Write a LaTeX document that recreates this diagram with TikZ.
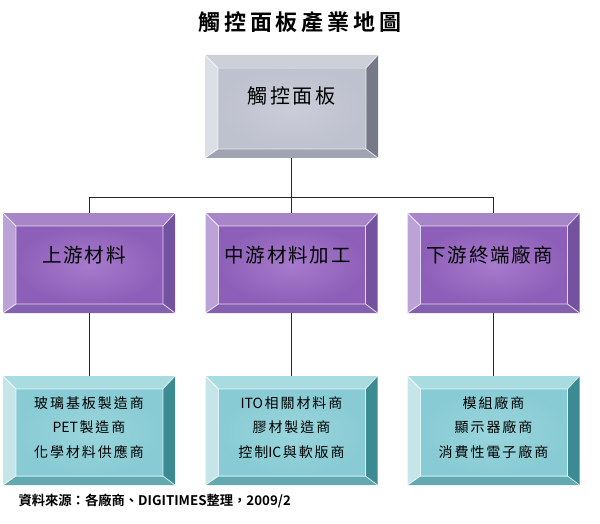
\documentclass[tikz,border=0pt]{standalone}
\usepackage{fontspec}
\setmainfont{Noto Sans CJK TC}[BoldFont={Noto Sans CJK TC Bold}]
\definecolor{gT}{HTML}{CDCFD9}
\definecolor{gL}{HTML}{DDDFE7}
\definecolor{gR}{HTML}{767987}
\definecolor{gB}{HTML}{A0A3B1}
\definecolor{gFO}{HTML}{BEC1CE}
\definecolor{gFI}{HTML}{CBCED9}
\definecolor{pT}{HTML}{A686C8}
\definecolor{pL}{HTML}{BBA3D8}
\definecolor{pR}{HTML}{7352A0}
\definecolor{pB}{HTML}{8361AE}
\definecolor{pFO}{HTML}{8E5FB8}
\definecolor{pFI}{HTML}{A67ACC}
\definecolor{tT}{HTML}{A9DCE1}
\definecolor{tL}{HTML}{C5E5E8}
\definecolor{tR}{HTML}{3C8A92}
\definecolor{tB}{HTML}{62A9B2}
\definecolor{tFO}{HTML}{88CBD4}
\definecolor{tFI}{HTML}{9AD5DC}
\newcommand\lat[1]{{\addfontfeature{LetterSpace=0}#1}\hspace{1.5pt}}
\newcommand\bevel[2]{%
 \path (#1.north west) coordinate (#1-a) (#1.north east) coordinate (#1-b)
   (#1.south east) coordinate (#1-c) (#1.south west) coordinate (#1-d)
   ([shift={(13pt,-13pt)}]#1.north west) coordinate (#1-ia)
   ([shift={(-12pt,-13pt)}]#1.north east) coordinate (#1-ib)
   ([shift={(-12pt,9pt)}]#1.south east) coordinate (#1-ic)
   ([shift={(13pt,9pt)}]#1.south west) coordinate (#1-id);
 \fill[#2T] (#1-a) -- (#1-b) -- (#1-ib) -- (#1-ia) -- cycle;
 \fill[#2R] (#1-b) -- (#1-c) -- (#1-ic) -- (#1-ib) -- cycle;
 \fill[#2B] (#1-c) -- (#1-d) -- (#1-id) -- (#1-ic) -- cycle;
 \fill[#2L] (#1-d) -- (#1-a) -- (#1-ia) -- (#1-id) -- cycle;
 \shade[inner color=#2FI, outer color=#2FO] (#1-ia) rectangle (#1-ic);
 \draw[white, opacity=.75, line width=.8pt] (#1-ia) -- (#1-ib) -- (#1-ic) -- (#1-id) -- cycle
   (#1-a) -- (#1-ia) (#1-b) -- (#1-ib) (#1-c) -- (#1-ic) (#1-d) -- (#1-id);
}
\tikzset{
 boxshape/.style={rectangle, inner sep=0pt, outer sep=0pt},
 topbox/.style={boxshape, minimum width=173pt, minimum height=103pt},
 midbox/.style={boxshape, minimum width=172pt, minimum height=100pt},
 botbox/.style={boxshape, minimum width=172pt, minimum height=109pt},
 conn/.style={draw=black!85, line width=0.9pt},
 titletext/.style={font=\bfseries\fontsize{22}{22}\selectfont\addfontfeature{LetterSpace=18}},
 toptext/.style={font=\fontsize{20}{20}\selectfont\addfontfeature{LetterSpace=14}},
 midtext/.style={font=\fontsize{19.5}{19.5}\selectfont\addfontfeature{LetterSpace=10}},
 bottext/.style={align=center, font=\fontsize{14}{24.5}\selectfont\addfontfeature{LetterSpace=14}},
 foottext/.style={font=\bfseries\fontsize{13.3}{13.3}\selectfont, anchor=west}
}
\begin{document}
\begin{tikzpicture}[x=1pt,y=-1pt]
\useasboundingbox (0,0) rectangle (600,524);
\node[titletext] (title) at (300,22) {觸控面板產業地圖};

\node[topbox] (top) at (291.5,106.5) {};
\node[midbox] (m1) at (89,263) {};
\node[midbox] (m2) at (291.5,263) {};
\node[midbox] (m3) at (493.5,263) {};
\node[botbox] (b1) at (89,430.5) {};
\node[botbox] (b2) at (291.5,430.5) {};
\node[botbox] (b3) at (493.5,430.5) {};

\coordinate (bus) at (291.5,197);
\draw[conn] (top.south) -- (bus);
\draw[conn] (bus) -| (m1.north);
\draw[conn] (bus) -| (m3.north);
\draw[conn] (bus) -- (m2.north);
\draw[conn] (m1.south) -- (b1.north);
\draw[conn] (m2.south) -- (b2.north);
\draw[conn] (m3.south) -- (b3.north);

\bevel{top}{g}
\bevel{m1}{p}
\bevel{m2}{p}
\bevel{m3}{p}
\bevel{b1}{t}
\bevel{b2}{t}
\bevel{b3}{t}

\node[toptext] (topT) at ([xshift=0pt,yshift=11pt]top.center) {觸控面板};
\node[midtext] (m1T) at ([xshift=-5pt,yshift=8pt]m1.center) {上游材料};
\node[midtext] (m2T) at ([xshift=-4pt,yshift=8pt]m2.center) {中游材料加工};
\node[midtext] (m3T) at ([xshift=-4pt,yshift=8pt]m3.center) {下游終端廠商};
\node[bottext] (b1T) at ([yshift=3pt]b1.center) {玻璃基板製造商\\\lat{PET}製造商\\化學材料供應商};
\node[bottext] (b2T) at ([yshift=3pt]b2.center) {\lat{ITO}相關材料商\\膠材製造商\\控制\lat{IC}與軟版商};
\node[bottext] (b3T) at ([yshift=3pt]b3.center) {模組廠商\\顯示器廠商\\消費性電子廠商};

\node[foottext] (foot) at (15,501) {資料來源：各廠商、DIGITIMES整理，2009/2};
\end{tikzpicture}
\end{document}
